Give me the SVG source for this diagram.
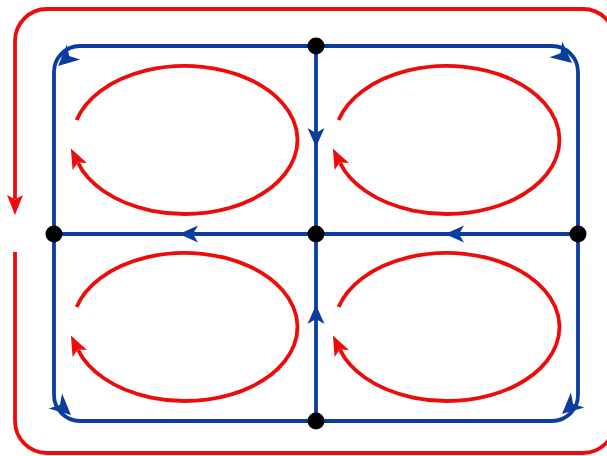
<svg xmlns="http://www.w3.org/2000/svg" width="607" height="456" viewBox="0 0 607 456">
<style>
.red{fill:none;stroke:#ec0c0c;stroke-width:3.8;marker-end:url(#ra)}
.blue{fill:none;stroke:#0b3d9e;stroke-width:3.8}
.bh{fill:#0b3d9e}
.node{fill:#000}
</style>
<defs>
<marker id="ra" viewBox="0 -9 22 18" markerUnits="userSpaceOnUse" markerWidth="22" markerHeight="18" refX="4" refY="0" orient="auto">
<path d="M0,-8 L20,0 L0,8 L4.5,0 Z" fill="#ec0c0c"/>
</marker>
<polygon id="bah" points="0,0 -19,-8.5 -14,0 -19,8.5"/>
<polygon id="bahc" points="0,0 -21,-10 -15,0 -21,10"/>
</defs>
<rect width="607" height="456" fill="#fff"/>
<g id="connectors">
<path class="red" d="M15,252 V421 A32,32 0 0 0 47,453 H583 A32,32 0 0 0 615,421 M615,41 A32,32 0 0 0 583,9 H47 A32,32 0 0 0 15,41 V199"/>
<path class="blue" d="M316,46 H80 A26,26 0 0 0 54,72 V234"/>
<path class="blue" d="M316,46 H552 A26,26 0 0 1 578,72 V234"/>
<path class="blue" d="M54,234 V395 A26,26 0 0 0 80,421 H316"/>
<path class="blue" d="M578,234 V395 A26,26 0 0 1 552,421 H316"/>
<path class="blue" d="M316,46 V421"/>
<path class="blue" d="M54,234 H578"/>
<g class="bh">
<use href="#bah" transform="translate(316,147) rotate(90)"/>
<use href="#bah" transform="translate(316,305) rotate(-90)"/>
<use href="#bah" transform="translate(179,234) rotate(180)"/>
<use href="#bah" transform="translate(445,234) rotate(180)"/>
<use href="#bahc" transform="translate(58,66) rotate(138)"/>
<use href="#bahc" transform="translate(572,63) rotate(40)"/>
<use href="#bahc" transform="translate(71,415) rotate(42)"/>
<use href="#bahc" transform="translate(562,414) rotate(138)"/>
</g>
</g>
<g id="loop-tl"><path class="red" d="M76.6,120.1 A112.5,74 0 1 1 78,162.9"/></g>
<g id="loop-tr"><path class="red" d="M338.6,120.1 A112.5,74 0 1 1 340,162.9"/></g>
<g id="loop-bl"><path class="red" d="M76.6,307.1 A112.5,74 0 1 1 78,349.9"/></g>
<g id="loop-br"><path class="red" d="M338.6,307.1 A112.5,74 0 1 1 340,349.9"/></g>
<g id="n-top"><circle class="node" cx="316" cy="46" r="8.5"/></g>
<g id="n-left"><circle class="node" cx="54" cy="234" r="8.5"/></g>
<g id="n-center"><circle class="node" cx="316" cy="234" r="8.5"/></g>
<g id="n-right"><circle class="node" cx="578" cy="234" r="8.5"/></g>
<g id="n-bottom"><circle class="node" cx="316" cy="421" r="8.5"/></g>
</svg>
